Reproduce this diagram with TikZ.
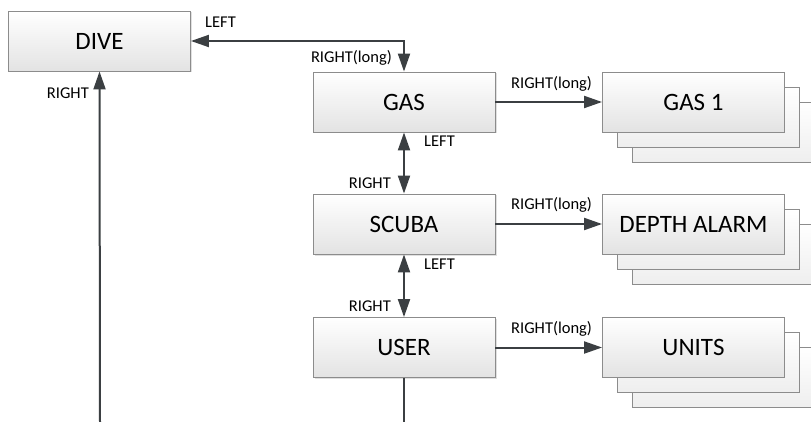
\documentclass[tikz,border=0pt]{standalone}
\usepackage{fontspec}
\setmainfont{Carlito}
\usetikzlibrary{arrows.meta,shadows}
\definecolor{linec}{HTML}{3B3F42}
\definecolor{boxborder}{HTML}{8C8C8C}
\definecolor{boxbottom}{HTML}{E3E3E3}
\tikzset{
  box/.style={draw=boxborder, line width=0.9pt, rectangle, minimum width=182pt, minimum height=60pt,
    top color=white, bottom color=boxbottom, inner sep=0pt,
    font=\fontsize{25}{30}\selectfont},
  backbox/.style={box, top color=white, bottom color=boxbottom!60},
  shadowed/.style={drop shadow={shadow xshift=1.5pt, shadow yshift=-1.5pt, fill=black, opacity=0.12}},
  conn/.style={draw=linec, line width=2pt},
  tip/.style={-{Triangle[length=18pt,width=12pt]}},
  tips/.style={{Triangle[length=18pt,width=12pt]}-{Triangle[length=18pt,width=12pt]}},
  lbl/.style={font=\fontsize{16.5}{20}\selectfont, inner sep=0pt, text=black}
}
\begin{document}
\begin{tikzpicture}[x=1pt,y=-1pt]
\useasboundingbox[fill=white] (0,0) rectangle (811,422);
% main column
\node[box,shadowed] (dive) at (99.5,41) {DIVE};
\node[box,shadowed] (gas) at (404,102) {GAS};
\node[box,shadowed] (scuba) at (404,224) {SCUBA};
\node[box,shadowed] (user) at (404,347.5) {USER};
% stacked boxes
\node[backbox] (gasc) at (723.5,132) {};
\node[backbox] (gasb) at (708.5,117) {};
\node[box] (gas1) at (693.5,102) {GAS 1};
\node[backbox] (depthc) at (723.5,254) {};
\node[backbox] (depthb) at (708.5,239) {};
\node[box] (depth) at (693.5,224) {DEPTH ALARM};
\node[backbox] (unitsc) at (723.5,377.5) {};
\node[backbox] (unitsb) at (708.5,362.5) {};
\node[box] (units) at (693.5,347.5) {UNITS};
% free ends
\coordinate (bl) at (100,422);
\coordinate (br) at (404,422);
% connectors
\draw[conn,tips] (dive.east) -| (gas.north);
\draw[conn,tip] (bl) -- (dive.south);
\draw[conn,tips] (gas.south) -- (scuba.north);
\draw[conn,tips] (scuba.south) -- (user.north);
\draw[conn] (user.south) -- (br);
\draw[conn,tip] (gas.east) -- (gas1.west);
\draw[conn,tip] (scuba.east) -- (depth.west);
\draw[conn,tip] (user.east) -- (units.west);
% labels
\node[lbl,anchor=base west] (l1) at (205,28) {LEFT};
\node[lbl,anchor=base east] (l2) at (392,63) {RIGHT(long)};
\node[lbl,anchor=base east] (l3) at (89,99) {RIGHT};
\node[lbl,anchor=base west] (l4) at (511,89) {RIGHT(long)};
\node[lbl,anchor=base west] (l5) at (424,147) {LEFT};
\node[lbl,anchor=base east] (l6) at (391,189) {RIGHT};
\node[lbl,anchor=base west] (l7) at (511,210) {RIGHT(long)};
\node[lbl,anchor=base west] (l8) at (424,269) {LEFT};
\node[lbl,anchor=base east] (l9) at (391,311) {RIGHT};
\node[lbl,anchor=base west] (l10) at (511,333) {RIGHT(long)};
\end{tikzpicture}
\end{document}
